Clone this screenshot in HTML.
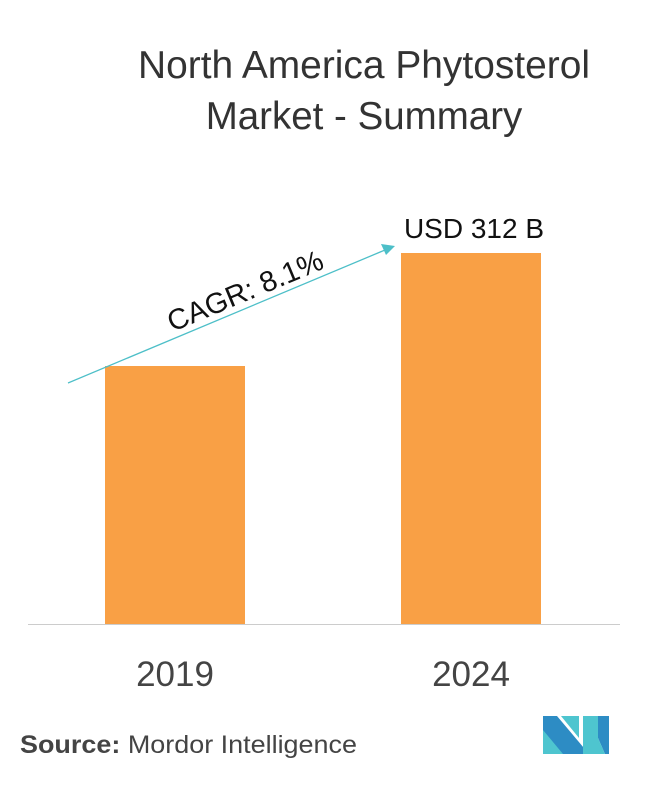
<!DOCTYPE html>
<html><head><style>
body{margin:0;background:#fff;}
</style></head><body>
<svg width="658" height="780" xmlns="http://www.w3.org/2000/svg" font-family="Liberation Sans, sans-serif">
<rect width="658" height="780" fill="#fff"/>
<text x="364" y="78" font-size="38.5" text-anchor="middle" fill="#333" textLength="452" lengthAdjust="spacingAndGlyphs">North America Phytosterol</text>
<text x="364" y="129" font-size="38.5" text-anchor="middle" fill="#333">Market - Summary</text>
<rect x="105" y="366" width="140" height="258" fill="#f9a045"/>
<rect x="401" y="253" width="140" height="371" fill="#f9a045"/>
<line x1="28" y1="624.5" x2="620" y2="624.5" stroke="#ccc" stroke-width="1"/>
<line x1="68" y1="383" x2="385" y2="250" stroke="#4dbfc8" stroke-width="1.3"/>
<polygon points="395,246 381,244 386,255" fill="#4dbfc8"/>
<text x="249" y="300" font-size="29" text-anchor="middle" fill="#111" transform="rotate(-22.7 249 300)">CAGR: 8.1%</text>
<text x="474" y="238" font-size="28" text-anchor="middle" fill="#111">USD 312 B</text>
<text x="175" y="686" font-size="35" text-anchor="middle" fill="#444">2019</text>
<text x="471" y="686" font-size="35" text-anchor="middle" fill="#444">2024</text>
<text x="20" y="753" font-size="25" fill="#444" textLength="337" lengthAdjust="spacingAndGlyphs"><tspan font-weight="bold">Source:</tspan> Mordor Intelligence</text>
<g transform="translate(543,716)">
<polygon points="0,0 14,0 46,38 0,38" fill="#2d8cc4"/>
<polygon points="0,14 20,38 0,38" fill="#4ec5cf"/>
<polygon points="18,0 36,0 36,22" fill="#4ec5cf"/>
<polygon points="40,0 52,0 52,38 40,38" fill="#4ec5cf"/>
<polygon points="55,0 66,0 66,38 62,38 55,22" fill="#2d8cc4"/>
<polygon points="52,0 55,0 55,22 62,38 52,38" fill="#4ec5cf"/>
</g>
</svg>
</body></html>
